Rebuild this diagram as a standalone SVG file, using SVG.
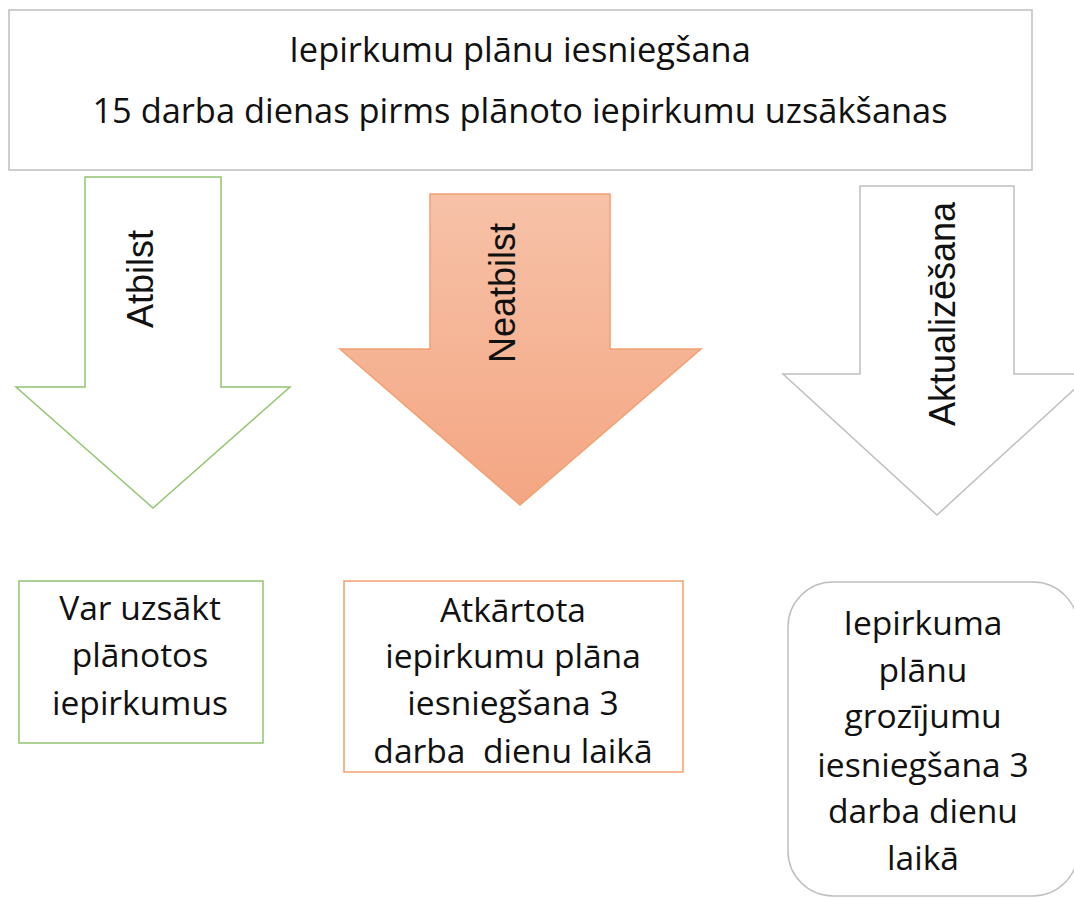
<svg xmlns="http://www.w3.org/2000/svg" width="1074" height="898" viewBox="0 0 1074 898">
<defs>
<linearGradient id="orangeGrad" x1="0" y1="0" x2="0" y2="1">
<stop offset="0" stop-color="#f7c2a8"/>
<stop offset="1" stop-color="#f4a683"/>
</linearGradient>
<style>
.t{font-family:"Open Sans","Noto Sans",sans-serif;font-size:33.6px;fill:#111;text-anchor:middle}
.t2{font-family:"Open Sans","Noto Sans",sans-serif;font-size:34.4px;fill:#111;text-anchor:middle}
.v{font-family:"Liberation Sans",Arial,sans-serif;font-size:36px;fill:#111;text-anchor:middle}
.gray{fill:#fff;stroke:#bfbfbf;stroke-width:1.5}
.green{fill:#fff;stroke:#93c572;stroke-width:1.5}
.orange{fill:url(#orangeGrad);stroke:#f2a070;stroke-width:1.5}
.obox{fill:#fff;stroke:#f2a070;stroke-width:1.5}
</style>
</defs>
<rect width="1074" height="898" fill="#fff"/>
<g id="top">
<rect class="gray" x="9" y="10" width="1023" height="160"/>
<text class="t2" x="520" y="62">Iepirkumu plānu iesniegšana</text>
<text class="t2" x="520" y="123">15 darba dienas pirms plānoto iepirkumu uzsākšanas</text>
</g>
<g id="connectors">
<g id="arrow-atbilst">
<polygon class="green" points="85,177 221,177 221,387 290,387 153,508 16,387 85,387"/>
<text class="v" transform="translate(153,279) rotate(-90)">Atbilst</text>
</g>
<g id="arrow-neatbilst">
<polygon class="orange" points="430,194 610,194 610,349 701,349 520,505 340,349 430,349"/>
<text class="v" transform="translate(515,293) rotate(-90)">Neatbilst</text>
</g>
<g id="arrow-aktualizesana">
<polygon class="gray" points="860,186 1014,186 1014,374 1091,374 937,515 783,374 860,374"/>
<text class="v" transform="translate(955,314) rotate(-90)">Aktualizēšana</text>
</g>
</g>
<g id="box-atbilst">
<rect class="green" x="19" y="581" width="244" height="162"/>
<text class="t" x="140" y="620">Var uzsākt</text>
<text class="t" x="140" y="667">plānotos</text>
<text class="t" x="140" y="715">iepirkumus</text>
</g>
<g id="box-neatbilst">
<rect class="obox" x="344" y="581" width="339" height="191"/>
<text class="t" x="513" y="622">Atkārtota</text>
<text class="t" x="513" y="668">iepirkumu plāna</text>
<text class="t" x="513" y="715">iesniegšana 3</text>
<text class="t" x="513" y="763" xml:space="preserve">darba  dienu laikā</text>
</g>
<g id="box-aktualizesana">
<rect class="gray" x="788" y="582" width="290" height="314" rx="45" ry="45"/>
<text class="t" x="923" y="635">Iepirkuma</text>
<text class="t" x="923" y="682">plānu</text>
<text class="t" x="923" y="728">grozījumu</text>
<text class="t" x="923" y="777">iesniegšana 3</text>
<text class="t" x="923" y="823">darba dienu</text>
<text class="t" x="923" y="870">laikā</text>
</g>
</svg>
